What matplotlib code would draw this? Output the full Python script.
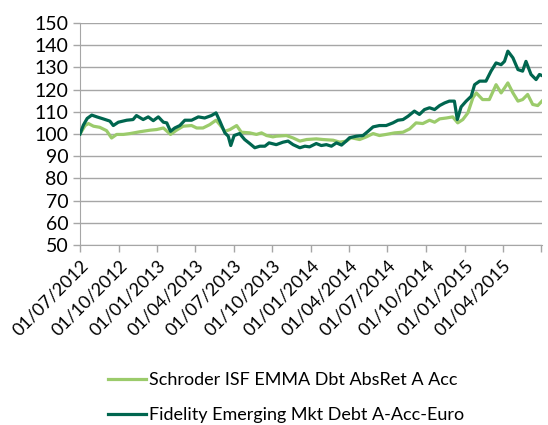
import matplotlib
matplotlib.use("Agg")
import matplotlib.pyplot as plt
import pandas as pd

plt.rcParams['font.family'] = ['Lato', 'DejaVu Sans']

start_date = "2012-07-01"
series_names = ["Schroder ISF EMMA Dbt AbsRet A Acc",
                "Fidelity Emerging Mkt Debt A-Acc-Euro"]

# days since start_date, values (indexed to 100)
schroder_days = [0, 12, 20, 32, 47, 63, 75, 87, 103, 119, 142, 166, 182, 198, 215, 229, 245, 265, 277,
                 292, 308, 323, 332, 344, 356, 372, 383, 403, 419, 431, 443, 458, 466, 490, 506, 522,
                 538, 561, 577, 601, 617, 632, 644, 664, 680, 696, 711, 727, 747, 767, 783, 798, 814,
                 830, 842, 854, 870, 885, 897, 909, 921, 933, 941, 956, 972, 988, 1000, 1008, 1016,
                 1028, 1040, 1051, 1063, 1075, 1087, 1097]
schroder_values = [100, 103.8, 104.7, 103.5, 103, 101.5, 98.2, 99.8, 99.8, 100.2, 101, 101.7, 102, 102.7,
                   99.8, 101.7, 103.5, 103.8, 102.7, 102.7, 104.2, 106.2, 104.2, 101.2, 102, 103.8, 100.8,
                   100.5, 99.8, 100.5, 99.3, 98.7, 99, 99.3, 98.2, 96.8, 97.5, 97.8, 97.5, 97.2, 96.3,
                   96.8, 98.3, 97.5, 98.7, 100.2, 99.3, 99.8, 100.5, 100.8, 102.3, 105, 104.7, 106.2,
                   105.3, 106.8, 107.2, 107.7, 105, 106.5, 109.5, 116.3, 118.5, 115.5, 115.5, 122.2,
                   118.5, 120.7, 123, 118.5, 114.8, 115.5, 117.8, 113.3, 112.8, 114.8]

fidelity_days = [0, 8, 17, 28, 40, 55, 71, 79, 91, 111, 126, 134, 150, 162, 174, 186, 198, 206, 215, 225,
                 237, 249, 265, 281, 296, 312, 323, 332, 344, 352, 358, 366, 379, 391, 403, 415, 427,
                 439, 449, 466, 482, 494, 506, 522, 534, 545, 561, 573, 585, 597, 609, 621, 632, 640,
                 656, 672, 684, 696, 711, 727, 743, 755, 767, 779, 794, 806, 818, 830, 842, 854, 866,
                 877, 889, 896, 905, 917, 929, 937, 949, 964, 976, 988, 1000, 1008, 1016, 1028, 1040,
                 1051, 1059, 1071, 1083, 1091, 1097]
fidelity_values = [100, 104, 107, 108.5, 107.7, 106.8, 105.8, 103.8, 105.3, 106.2, 106.5, 108.3, 106.5,
                   107.7, 106, 107.7, 105.3, 105, 101.2, 102.7, 103.8, 106.2, 106.2, 107.7, 107.2, 108.3,
                   109.5, 105.8, 100.5, 99, 94.8, 99.3, 100.2, 97.5, 95.7, 93.8, 94.5, 94.5, 96, 95.2,
                   96.3, 96.8, 95.2, 93.8, 94.5, 94.2, 95.7, 94.8, 95.2, 94.5, 96, 95, 96.8, 98.3, 99,
                   99.3, 101.2, 103.2, 103.8, 103.8, 105, 106.2, 106.5, 108, 110.3, 108.8, 111, 111.8,
                   111, 112.8, 114, 114.8, 114.8, 106.5, 112.2, 114.8, 117, 122.2, 123.8, 123.8, 128.3,
                   132, 131.2, 132.7, 137.3, 134.3, 129, 128.3, 132.7, 126.8, 124.5, 126.8, 126.3]

tick_dates = ["2012-07-01", "2012-10-01", "2013-01-01", "2013-04-01", "2013-07-01", "2013-10-01",
              "2014-01-01", "2014-04-01", "2014-07-01", "2014-10-01", "2015-01-01", "2015-04-01",
              "2015-07-01"]
tick_labels = ["01/07/2012", "01/10/2012", "01/01/2013", "01/04/2013", "01/07/2013", "01/10/2013",
               "01/01/2014", "01/04/2014", "01/07/2014", "01/10/2014", "01/01/2015", "01/04/2015", ""]
y_ticks = [50, 60, 70, 80, 90, 100, 110, 120, 130, 140, 150]

colors = ["#9BCB6B", "#00664F"]

t0 = pd.Timestamp(start_date)
sx = [t0 + pd.Timedelta(days=d) for d in schroder_days]
fx = [t0 + pd.Timedelta(days=d) for d in fidelity_days]

fig = plt.figure(figsize=(5.48, 4.25), dpi=100)
ax = fig.add_axes([0.146, 0.4235, 0.843, 0.5225])

l1, = ax.plot(sx, schroder_values, color=colors[0], lw=2.3, solid_joinstyle='round', zorder=3)
l2, = ax.plot(fx, fidelity_values, color=colors[1], lw=2.3, solid_joinstyle='round', zorder=4)

ax.set_ylim(50, 150)
ax.set_yticks(y_ticks)
ax.set_xlim(pd.Timestamp("2012-07-01"), pd.Timestamp("2015-07-03"))
ax.set_xticks([pd.Timestamp(d) for d in tick_dates])
ax.set_xticklabels(tick_labels, rotation=45, ha='right', rotation_mode='anchor')
ax.grid(axis='y', color='#A6A6A6', lw=1)
ax.set_axisbelow(True)
for s in ['top', 'right']:
    ax.spines[s].set_visible(False)
for s in ['left', 'bottom']:
    ax.spines[s].set_color('#A6A6A6')
ax.tick_params(axis='both', colors='#A6A6A6', labelcolor='#000000', labelsize=13, length=5, width=1)
ax.tick_params(axis='y', labelsize=14)
ax.tick_params(axis='x', pad=4)

fig.legend([l1, l2], series_names, loc='upper left', bbox_to_anchor=(0.197, 0.125),
           frameon=False, fontsize=13, handlelength=2.1, handletextpad=0.2, labelspacing=1.05,
           borderaxespad=0, borderpad=0)

fig.savefig("out.png", dpi=100)
